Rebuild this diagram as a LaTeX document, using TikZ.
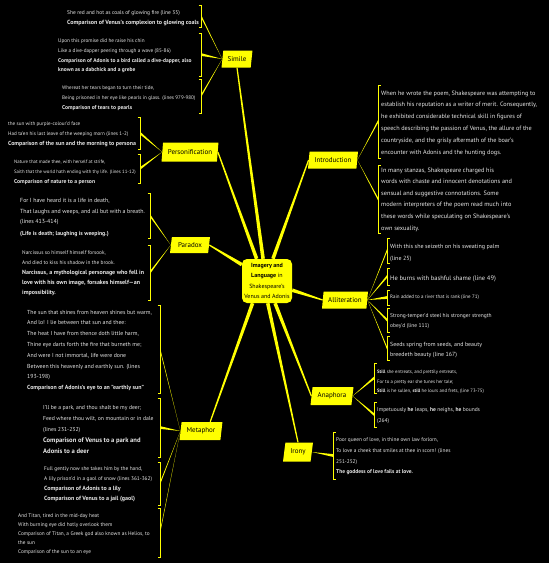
\documentclass[tikz,border=0pt]{standalone}
\usepackage{fontspec}
\setmainfont{PT Sans}
\usetikzlibrary{shapes.geometric,calc}
\definecolor{yel}{RGB}{255,255,0}
\definecolor{txt}{RGB}{232,232,232}
\newcommand\B[2]{{\fontsize{#1}{\baselineskip}\selectfont\bfseries #2}}
\newcommand\F[2]{\fontsize{#1}{#2}\selectfont}
\newcommand\brR[4]{\draw[brk] (#1-2.5,#2) -- (#1,#2) -- (#1,#3) -- (#1-2.5,#3); \coordinate (#4) at (#1,{(#2+#3)/2});}
\newcommand\brL[4]{\draw[brk] (#1+2.5,#2) -- (#1,#2) -- (#1,#3) -- (#1+2.5,#3); \coordinate (#4) at (#1,{(#2+#3)/2});}
\newcommand\twig[2]{\fill[yel] (#1) -- ($(#2)+(0,-1.4)$) -- ($(#2)+(0,1.4)$) -- cycle;}
\newcommand\taper[2]{\fill[yel] ($(#1)!1.8pt!90:(#2)$) -- ($(#2)!0.6pt!-90:(#1)$) -- ($(#2)!0.6pt!90:(#1)$) -- ($(#1)!1.8pt!-90:(#2)$) -- cycle;}
\tikzset{
  topic/.style={trapezium, trapezium left angle=78, trapezium right angle=102,
    trapezium stretches=true, fill=yel, text=black, inner sep=0.5pt,
    font=\fontsize{7}{8}\selectfont},
  centre/.style={rectangle, rounded corners=5pt, fill=yel, text=black, align=center,
    inner sep=1pt, minimum width=50pt, minimum height=44pt},
  leaf/.style={text=txt, align=left, inner sep=0pt, anchor=north west},
  brk/.style={draw=yel, line width=0.7pt},
}
\begin{document}
\begin{tikzpicture}[x=1pt,y=-1pt]
\fill[black] (0,0) rectangle (549,563);
\useasboundingbox (0,0) rectangle (549,563);

% centre
\node[centre, font=\F{6}{10.3}] (c) at (267,281)
  {\textbf{Imagery and}\\\textbf{Language} in\\Shakespeare's\\Venus and Adonis};

% topics
\node[topic, minimum width=31pt, minimum height=17pt] (sim) at (237,59) {Simile};
\node[topic, minimum width=57pt, minimum height=19pt] (per) at (190,152) {Personification};
\node[topic, minimum width=40pt, minimum height=16pt] (par) at (190,245) {Paradox};
\node[topic, minimum width=43pt, minimum height=18pt] (met) at (201,431) {Metaphor};
\node[topic, minimum width=50pt, minimum height=17pt] (int) at (333,160) {Introduction};
\node[topic, minimum width=46pt, minimum height=17pt] (all) at (345,300) {Alliteration};
\node[topic, minimum width=43pt, minimum height=18pt] (ana) at (332,396) {Anaphora};
\node[topic, minimum width=30pt, minimum height=19pt] (iro) at (298,452) {Irony};

% main connectors
\taper{c.100}{sim.south}
\taper{c.115}{per.east}
\taper{c.75}{int.west}
\taper{c.147}{par.east}
\taper{c.-20}{all.west}
\taper{c.237}{met.north east}
\taper{c.-88}{iro.north}
\taper{c.-70}{ana.west}

% Simile leaves
\node[leaf, font=\F{5.45}{10}] (s1) at (67,10.9)
  {She red and hot as coals of glowing fire (line 35)\\\B{6}{Comparison of Venus's complexion to glowing coals}};
\node[leaf, font=\F{5.2}{9.7}] (s2) at (58,38.9)
  {Upon this promise did he raise his chin\\Like a dive-dapper peering through a wave (85-86)\\\B{5.5}{Comparison of Adonis to a bird called a dive-dapper, also}\\\B{5.5}{known as a dabchick and a grebe}};
\node[leaf, font=\F{5.1}{9.7}] (s3) at (62,86)
  {Whereat her tears began to turn their tide,\\Being prisoned in her eye like pearls in glass. (lines 979-980)\\\B{5.6}{Comparison of tears to pearls}};
\brR{201}{5}{27}{bs1}
\brR{201}{33}{76}{bs2}
\brR{201}{79}{113}{bs3}
\twig{sim.west}{bs1}
\twig{sim.west}{bs2}
\twig{sim.west}{bs3}

% Personification leaves
\node[leaf, font=\F{5.1}{10}] (p1) at (8,122)
  {the sun with purple-colour'd face\\Had ta'en his last leave of the weeping morn (lines 1-2)\\\B{5.9}{Comparison of the sun and the morning to persona}};
\node[leaf, font=\F{4.8}{9.7}] (p2) at (14,160)
  {Nature that made thee, with herself at strife,\\Saith that the world hath ending with thy life. (lines 11-12)\\\B{5.7}{Comparison of nature to a person}};
\brR{140}{117}{149}{bp1}
\brR{140}{154}{183}{bp2}
\twig{per.west}{bp1}
\twig{per.west}{bp2}

% Paradox leaves
\node[leaf, font=\F{5.9}{10.3}] (d1) at (20,198.5)
  {For I have heard it is a life in death,\\That laughs and weeps, and all but with a breath.\\(lines 413-414)\\[2pt]\B{5.8}{(Life is death; laughing is weeping.)}};
\node[leaf, font=\F{5.3}{10}] (d2) at (22,251)
  {Narcissus so himself himself forsook,\\And died to kiss his shadow in the brook.\\\B{6}{Narcissus, a mythological personage who fell in}\\\B{6}{love with his own image, forsakes himself—an}\\\B{6}{impossibility.}};
\brR{150}{193}{238}{bd1}
\brR{150}{245}{300}{bd2}
\twig{par.west}{bd1}
\twig{par.west}{bd2}

% Metaphor leaves
\node[leaf, font=\F{5.8}{10.8}] (m1) at (27,309.7)
  {The sun that shines from heaven shines but warm,\\And lo! I lie between that sun and thee:\\The heat I have from thence doth little harm,\\Thine eye darts forth the fire that burneth me;\\And were I not immortal, life were done\\Between this heavenly and earthly sun. (lines\\193-198)\\\B{5.9}{Comparison of Adonis's eye to an "earthly sun"}};
\node[leaf, font=\F{5.7}{11.2}] (m2) at (43,404.8)
  {I'll be a park, and thou shalt be my deer;\\Feed where thou wilt, on mountain or in dale\\(lines 231-232)\\\B{6.6}{Comparison of Venus to a park and}\\\B{6.6}{Adonis to a deer}};
\node[leaf, font=\F{5.35}{10}] (m3) at (44,467)
  {Full gently now she takes him by the hand,\\A lily prison'd in a gaol of snow (lines 361-362)\\\B{6}{Comparison of Adonis to a lily}\\\B{6}{Comparison of Venus to a jail (gaol)}};
\node[leaf, font=\F{5.3}{9}] (m4) at (18,514)
  {And Titan, tired in the mid-day heat\\With burning eye did hotly overlook them\\Comparison of Titan, a Greek god also known as Helios, to\\the sun\\Comparison of the sun to an eye};
\brR{160}{305}{393}{bm1}
\brR{160}{398}{457}{bm2}
\brR{160}{462}{505}{bm3}
\brR{160}{508}{557}{bm4}
\twig{met.west}{bm1}
\twig{met.west}{bm2}
\twig{met.west}{bm3}
\twig{met.west}{bm4}

% Introduction leaves
\node[leaf, font=\F{6.25}{11.8}] (i1) at (381,90.5)
  {When he wrote the poem, Shakespeare was attempting to\\establish his reputation as a writer of merit. Consequently,\\he exhibited considerable technical skill in figures of\\speech describing the passion of Venus, the allure of the\\countryside, and the grisly aftermath of the boar's\\encounter with Adonis and the hunting dogs.};
\node[leaf, font=\F{6.3}{11.6}] (i2) at (381,167.5)
  {In many stanzas, Shakespeare charged his\\words with chaste and innocent denotations and\\sensual and suggestive connotations. Some\\modern interpreters of the poem read much into\\these words while speculating on Shakespeare's\\own sexuality.};
\brL{378}{85}{158}{bi1}
\brL{378}{165}{233}{bi2}
\twig{int.east}{bi1}
\twig{int.east}{bi2}

% Alliteration leaves
\node[leaf, font=\F{6}{12}] (a1) at (390,243.7)
  {With this she seizeth on his sweating palm\\(line 25)};
\node[leaf, font=\F{6.5}{12}] (a2) at (390,275.4)
  {He burns with bashful shame (line 49)};
\node[leaf, font=\F{5}{10}] (a3) at (390,295)
  {Rain added to a river that is rank (line 71)};
\node[leaf, font=\F{5.5}{10}] (a4) at (390,313.8)
  {Strong-temper'd steel his stronger strength\\obey'd (line 111)};
\node[leaf, font=\F{5.9}{10}] (a5) at (390,341.7)
  {Seeds spring from seeds, and beauty\\breedeth beauty (line 167)};
\brL{387}{238}{263}{ba1}
\brL{387}{268}{285}{ba2}
\brL{387}{290}{305}{ba3}
\brL{387}{308}{332}{ba4}
\brL{387}{336}{360}{ba5}
\twig{all.east}{ba1}
\twig{all.east}{ba2}
\twig{all.east}{ba3}
\twig{all.east}{ba4}
\twig{all.east}{ba5}

% Anaphora leaves
\node[leaf, font=\F{4.8}{9.5}] (n1) at (377,370)
  {\textbf{Still} she entreats, and prettily entreats,\\For to a pretty ear she tunes her tale;\\\textbf{Still} is he sullen, \textbf{still} he lours and frets, (line 73-75)};
\node[leaf, font=\F{5.5}{11}] (n2) at (377,407.8)
  {Impetuously \textbf{he} leaps, \textbf{he} neighs, \textbf{he} bounds\\(264)};
\brL{374}{363}{393}{bn1}
\brL{374}{402}{427}{bn2}
\twig{ana.east}{bn1}
\twig{ana.east}{bn2}

% Irony leaf
\node[leaf, font=\F{5.35}{10.7}] (r1) at (336,437.9)
  {Poor queen of love, in thine own law forlorn,\\To love a cheek that smiles at thee in scorn! (lines\\251-252)\\\B{5.5}{The goddess of love fails at love.}};
\brL{333}{432}{479}{br1}
\twig{iro.east}{br1}
\end{tikzpicture}
\end{document}
